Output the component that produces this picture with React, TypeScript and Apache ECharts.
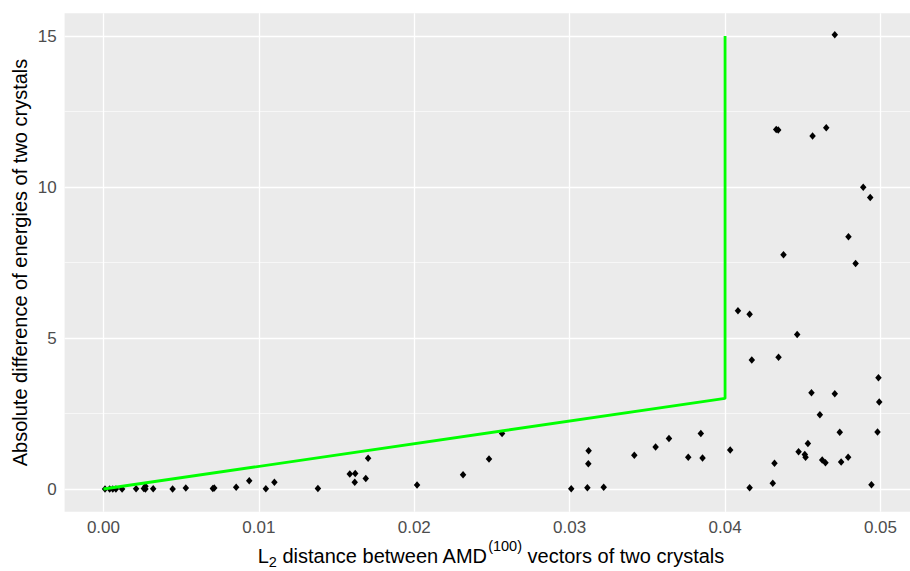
import React, { useEffect, useRef } from "react";
import * as echarts from "echarts";

// L2 distance between AMD(100) vectors (x) and absolute energy difference (y)
const distances = [
  0.0001, 0.0004, 0.0006, 0.0008, 0.0012, 0.0021, 0.0026, 0.0027, 0.0027, 0.0032,
  0.00445, 0.0053, 0.00704, 0.00713, 0.00854, 0.00938, 0.01045, 0.011, 0.0138, 0.01585,
  0.0162, 0.01617, 0.01688, 0.01703, 0.02018, 0.02314, 0.02481, 0.02565, 0.0301, 0.03114,
  0.0312, 0.03122, 0.03219, 0.03416, 0.03553, 0.03639, 0.03763, 0.03844, 0.03855, 0.04033,
  0.04083, 0.04158, 0.04158, 0.04172, 0.04307, 0.04318, 0.04329, 0.04342, 0.04344, 0.04376,
  0.04464, 0.04473, 0.04513, 0.04518, 0.04533, 0.04556, 0.04563, 0.0461, 0.04625, 0.04646,
  0.04651, 0.04706, 0.04706, 0.04738, 0.04747, 0.04792, 0.04794, 0.0484, 0.04889, 0.04934,
  0.04942, 0.04981, 0.04987, 0.04992,
];
const energyDiffs = [
  0.0, 0.0, 0.0, 0.0, 0.0, 0.01, 0.02, 0.09, 0.0, 0.01,
  0.0, 0.03, 0.02, 0.03, 0.06, 0.27, 0.01, 0.22, 0.02, 0.5,
  0.51, 0.22, 0.35, 1.02, 0.13, 0.47, 0.99, 1.84, 0.01, 0.04,
  0.84, 1.27, 0.06, 1.12, 1.39, 1.67, 1.05, 1.84, 1.03, 1.29,
  5.9, 5.79, 0.04, 4.27, 0.19, 0.85, 11.9, 11.89, 4.36, 7.76,
  5.12, 1.23, 1.14, 1.05, 1.51, 3.19, 11.69, 2.46, 0.96, 0.87,
  11.96, 15.04, 3.15, 1.88, 0.89, 1.05, 8.35, 7.47, 9.99, 9.65,
  0.14, 1.89, 3.68, 2.88,
];

// Threshold boundary (green)
const boundaryX = [0, 0.04, 0.04];
const boundaryY = [0, 3, 15];

const xTicks = [0, 0.01, 0.02, 0.03, 0.04, 0.05];
const xMinorTicks = [0.005, 0.015, 0.025, 0.035, 0.045];
const yTicks = [0, 5, 10, 15];
const yMinorTicks = [2.5, 7.5, 12.5];

const FONT = "'Liberation Sans', Arial, sans-serif";

export default function App() {
  const ref = useRef<HTMLDivElement>(null);

  useEffect(() => {
    document.body.style.margin = "0";
    const chart = echarts.init(ref.current!, null, { renderer: "svg" });

    const canvas = document.createElement("canvas");
    const ctx = canvas.getContext("2d")!;
    const measure = (t: string, size: number) => {
      ctx.font = `${size}px 'Liberation Sans', Arial, sans-serif`;
      return ctx.measureText(t).width;
    };
    const parts = [
      { t: "L", s: 20, dy: 0 },
      { t: "2", s: 14.5, dy: 6 },
      { t: " distance between AMD", s: 20, dy: 0 },
      { t: "(100)", s: 14.5, dy: -10 },
      { t: " vectors of two crystals", s: 20, dy: 0 },
    ];
    const widths = parts.map((p) => measure(p.t, p.s));
    const total = widths.reduce((a, b) => a + b, 0);
    let cursor = 491 - total / 2;
    const titleY = 556;
    const xTitleEls = parts.map((p, i) => {
      const el = {
        type: "text",
        x: cursor,
        y: titleY + p.dy,
        silent: true,
        style: {
          text: p.t,
          fontSize: p.s,
          fontFamily: FONT,
          fill: "#000000",
          textAlign: "left",
          textVerticalAlign: "middle",
          align: "left",
          verticalAlign: "middle",
        },
      };
      cursor += widths[i];
      return el;
    });

    const scatterData = distances.map((d, i) => [d, energyDiffs[i]]);
    const boundaryData = boundaryX.map((d, i) => [d, boundaryY[i]]);

    const gridLine = (width: number) => ({
      color: "#FFFFFF",
      width,
      type: "solid" as const,
    });

    chart.setOption({
      animation: false,
      grid: {
        left: 64.6,
        right: 0,
        top: 13.35,
        bottom: 59.35,
        show: true,
        backgroundColor: "#EBEBEB",
        borderWidth: 0,
      },
      xAxis: {
        type: "value",
        min: -0.0025,
        max: 0.0519,
        axisLine: { show: false },
        splitLine: { show: false },
        axisTick: {
          show: true,
          length: 4,
          customValues: xTicks,
          lineStyle: { color: "#333333", width: 1 },
        },
        axisLabel: {
          customValues: xTicks,
          margin: 7,
          color: "#4D4D4D",
          fontSize: 17,
          fontFamily: FONT,
          formatter: (v: number) => v.toFixed(2),
        },
      },
      yAxis: {
        type: "value",
        min: -0.75,
        max: 15.75,
        axisLine: { show: false },
        splitLine: { show: false },
        axisTick: {
          show: true,
          length: 4,
          customValues: yTicks,
          lineStyle: { color: "#333333", width: 1 },
        },
        axisLabel: {
          customValues: yTicks,
          margin: 8,
          color: "#4D4D4D",
          fontSize: 17,
          fontFamily: FONT,
          formatter: (v: number) => String(v),
        },
      },
      graphic: [
        ...xTitleEls,
        {
          type: "text",
          x: 20,
          y: 262.5,
          rotation: Math.PI / 2,
          silent: true,
          style: {
            text: "Absolute difference of energies of two crystals",
            fontSize: 20,
            fontFamily: FONT,
            fill: "#000000",
            textAlign: "center",
            textVerticalAlign: "middle",
            align: "center",
            verticalAlign: "middle",
          },
        },
      ],
      series: [
        {
          type: "line",
          data: [],
          silent: true,
          z: 1,
          markLine: {
            silent: true,
            symbol: ["none", "none"],
            z: 1,
            label: { show: false },
            emphasis: { disabled: true },
            data: [
              ...xMinorTicks.map((v) => ({ xAxis: v, lineStyle: gridLine(0.6) })),
              ...yMinorTicks.map((v) => ({ yAxis: v, lineStyle: gridLine(0.6) })),
              ...xTicks.map((v) => ({ xAxis: v, lineStyle: gridLine(1.3) })),
              ...yTicks.map((v) => ({ yAxis: v, lineStyle: gridLine(1.3) })),
            ],
          },
        },
        {
          type: "scatter",
          data: scatterData,
          symbol: "diamond",
          symbolSize: [6.5, 7.5],
          itemStyle: { color: "#000000", opacity: 1 },
          z: 3,
          silent: true,
        },
        {
          type: "line",
          data: boundaryData,
          symbol: "none",
          lineStyle: { color: "#00FF00", width: 2.8 },
          z: 4,
          silent: true,
        },
      ],
    });

    return () => chart.dispose();
  }, []);

  return <div ref={ref} style={{ width: 910, height: 571 }} />;
}
